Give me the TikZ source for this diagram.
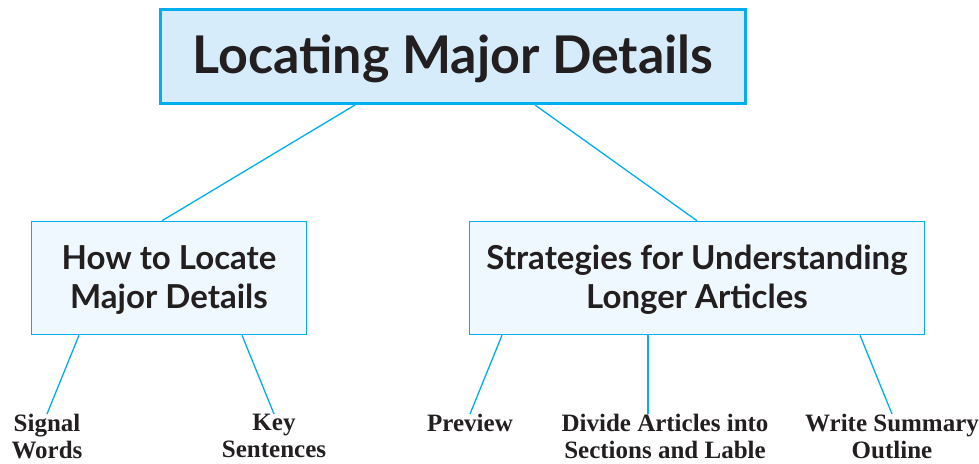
\documentclass[tikz,border=0pt]{standalone}
\usepackage{fontspec}
\setmainfont{Liberation Serif}
\setsansfont{Lato}
\usepackage{tikz}

\definecolor{lineblue}{RGB}{0,174,239}
\definecolor{topfill}{RGB}{214,236,250}
\definecolor{boxfill}{RGB}{239,248,254}
\definecolor{inkblack}{RGB}{35,31,32}

\begin{document}
\begin{tikzpicture}[x=1pt, y=-1pt]
\tikzstyle{head}=[draw=lineblue, line width=3pt, fill=topfill, text=inkblack, minimum width=585pt, minimum height=94pt, text depth=5pt, font=\sffamily\bfseries\fontsize{52}{60}\selectfont]
\tikzstyle{box}=[draw=lineblue, line width=1.5pt, fill=boxfill, text=inkblack, minimum height=113pt, text depth=2pt, align=center, font=\sffamily\bfseries\fontsize{33}{39}\selectfont]
\tikzstyle{leaf}=[inner sep=0pt, anchor=north, align=center, text=inkblack, font=\rmfamily\bfseries\fontsize{25}{27}\selectfont]
\tikzstyle{link}=[draw=lineblue, line width=1.3pt]
\useasboundingbox (0,0) rectangle (979,463);
\node (A) [head] at (453,56.5) {Locating Major Details};
\node (B) [box, minimum width=275pt] at (169,278) {How to Locate\\Major Details};
\node (C) [box, minimum width=455pt] at (697,278) {Strategies for Understanding\\Longer Articles};
\draw [link] ([xshift=-98]A.south) -- ([xshift=-7]B.north);
\draw [link] ([xshift=82]A.south) -- (C.north);
\node (D) [leaf] at (47,414) {Signal\\Words};
\node (E) [leaf] at (274,414) {Key\\Sentences};
\node (F) [leaf] at (470,414) {Preview};
\node (G) [leaf] at (665,414) {Divide Articles into\\Sections and Lable};
\node (H) [leaf] at (892,414) {Write Summary\\Outline};
\draw [link] ([xshift=-90]B.south) -- (D.north);
\draw [link] ([xshift=73]B.south) -- (E.north);
\draw [link] ([xshift=-195]C.south) -- (F.north);
\draw [link] ([xshift=-49]C.south) -- ([xshift=-17]G.north);
\draw [link] ([xshift=163]C.south) -- (H.north);
\end{tikzpicture}
\end{document}
